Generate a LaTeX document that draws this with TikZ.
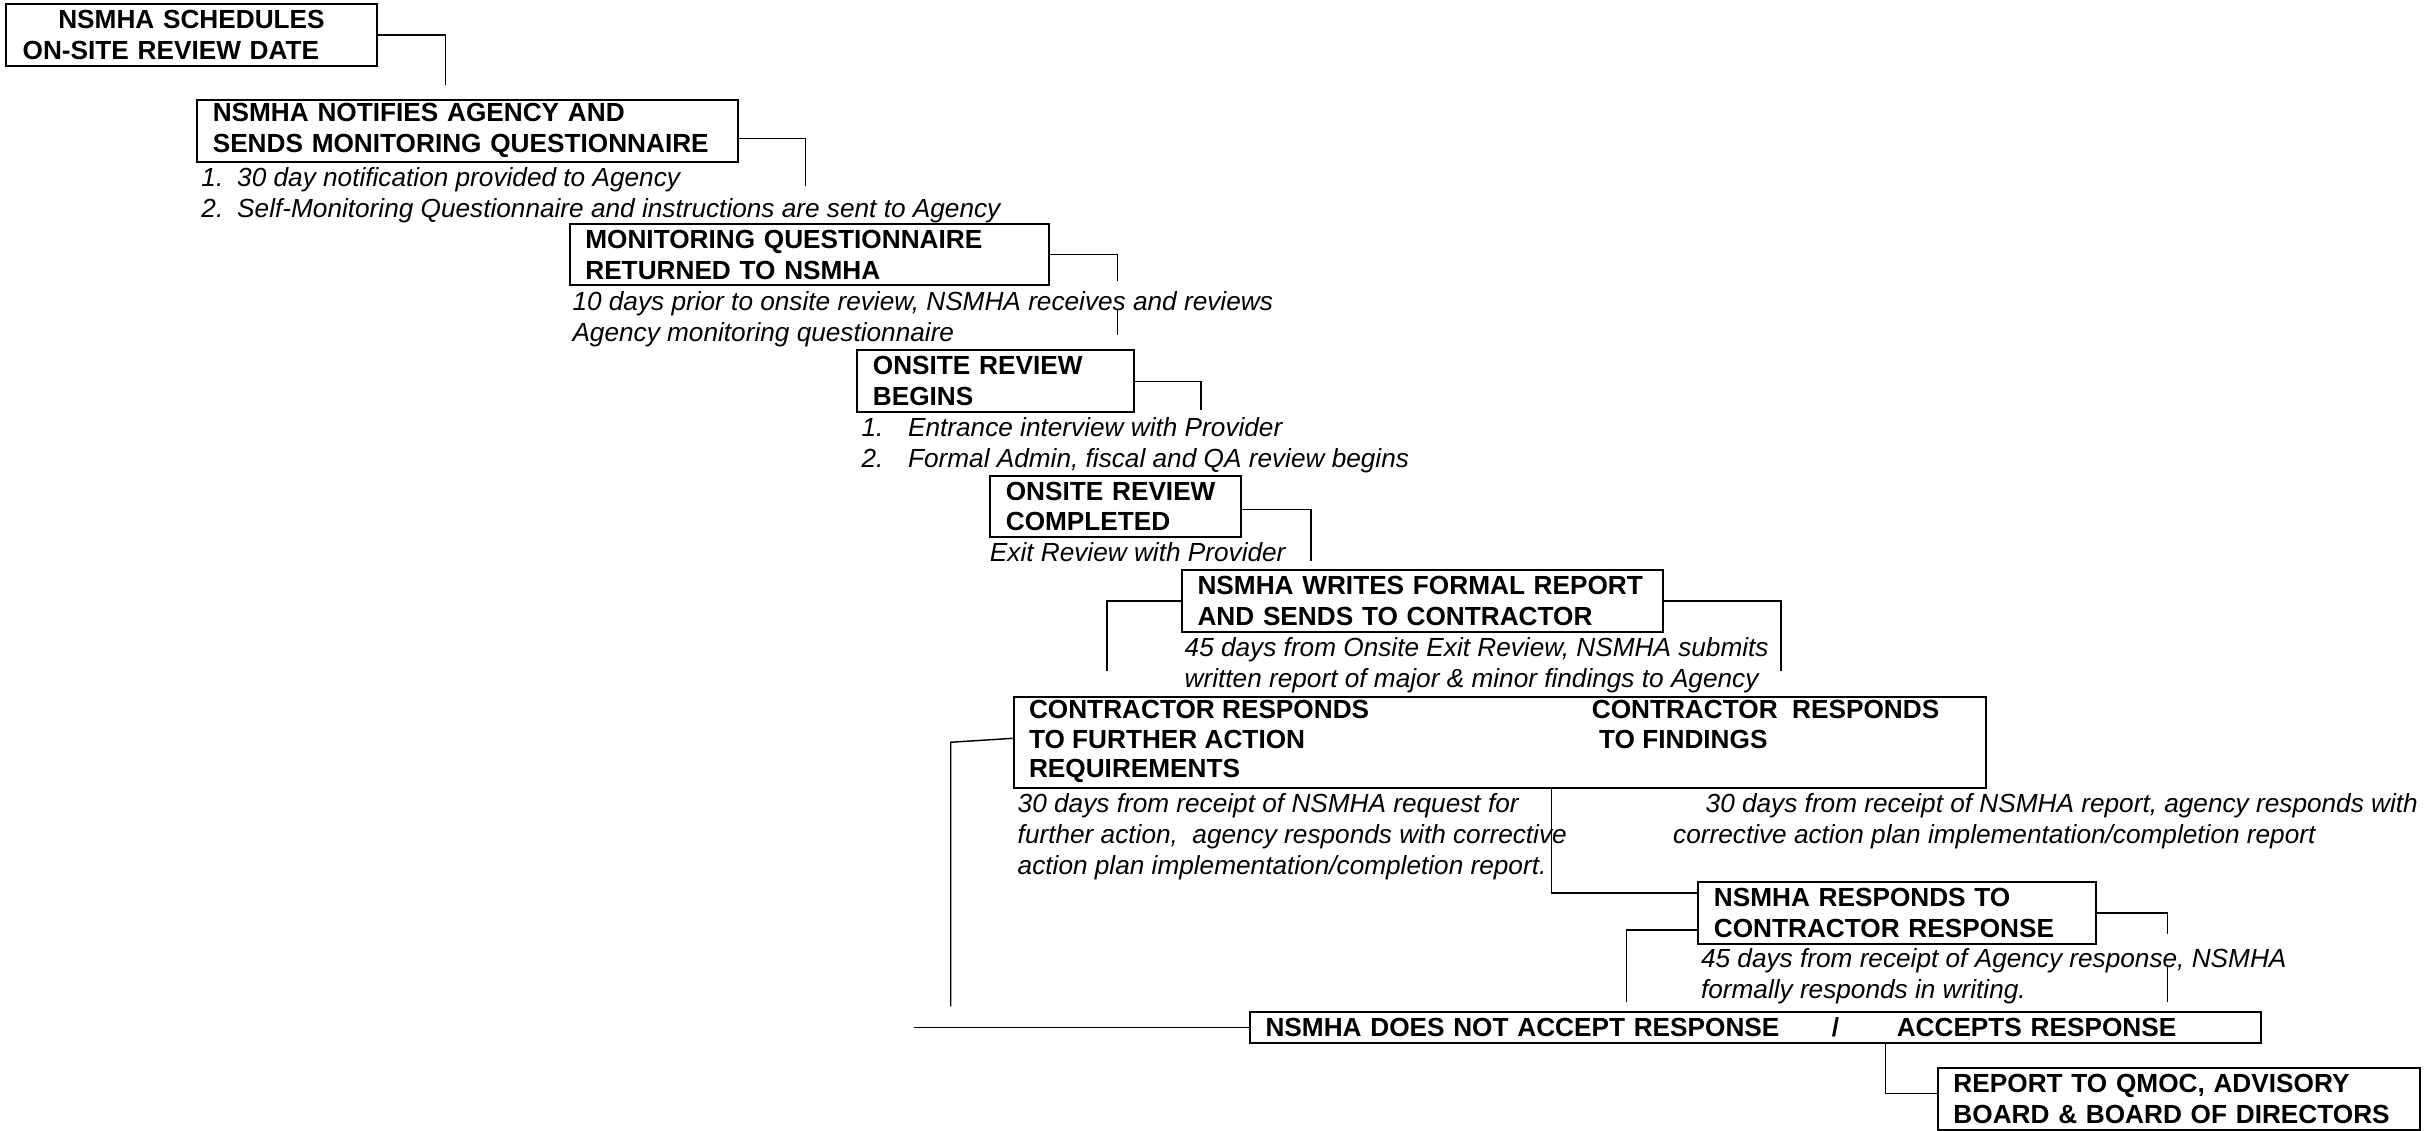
\documentclass[tikz,border=0pt]{standalone}
\usepackage{fontspec}
\setmainfont{Liberation Sans}
\begin{document}
\begin{tikzpicture}[x=0.59pt,y=-0.59pt,
    stage/.style={draw,line width=0.75pt,anchor=north west,align=left,inner xsep=5.9pt,inner ysep=0pt,minimum height=23.6pt,font=\bfseries\fontsize{10}{11.8}\selectfont},
    note/.style={anchor=north west,align=left,inner sep=0pt,font=\itshape\fontsize{10}{11.8}\selectfont},
    link/.style={line width=0.55pt}]
\useasboundingbox (0,0) rectangle (1568,731);

\node[stage,text width=128.6pt,inner xsep=6.5pt] (sched) at (3,2) {\hspace*{13.6pt}NSMHA SCHEDULES\\ON-SITE REVIEW DATE};
\node[stage,text width=194.7pt] (notify) at (127,64) {NSMHA NOTIFIES AGENCY AND\\SENDS MONITORING QUESTIONNAIRE};
\node[stage,text width=171.1pt] (returned) at (368,144) {MONITORING QUESTIONNAIRE\\RETURNED TO NSMHA};
\node[stage,text width=93.8pt] (begins) at (554,226) {ONSITE REVIEW\\BEGINS};
\node[stage,text width=83.8pt] (completed) at (640,307) {ONSITE REVIEW\\COMPLETED};
\node[stage,text width=171.7pt] (report) at (764,368) {NSMHA WRITES FORMAL REPORT\\AND SENDS TO CONTRACTOR};
\node[stage,minimum width=371.1pt,minimum height=34.8pt,font=\bfseries\fontsize{10}{11.2}\selectfont] (respond) at (655,450)
    {\begin{tabular}{@{}p{214.8pt}@{}p{144.5pt}@{}}
     CONTRACTOR RESPONDS & CONTRACTOR\ \ RESPONDS\\
     TO FURTHER ACTION & \ TO FINDINGS\\
     REQUIREMENTS &
     \end{tabular}};
\node[stage,text width=139.8pt] (nsmharesp) at (1098,570) {NSMHA RESPONDS TO\\CONTRACTOR RESPONSE};
\node[stage,text width=374.1pt,minimum height=11.8pt] (decision) at (808,654) {NSMHA DOES NOT ACCEPT RESPONSE\hspace{20pt}/\hspace{22pt}ACCEPTS RESPONSE};
\node[stage,text width=172.3pt] (qmoc) at (1253,690) {REPORT TO QMOC, ADVISORY\\BOARD \& BOARD OF DIRECTORS};

\coordinate (c1) at (288,55);
\coordinate (c2) at (521,120);
\coordinate (c3a) at (723,182);
\coordinate (c3b) at (723,200);
\coordinate (c3) at (723,217);
\coordinate (c4) at (777,265);
\coordinate (c5) at (848,363);
\coordinate (c6) at (1152,434);
\coordinate (c7) at (716,434);
\coordinate (c8) at (615,651);
\coordinate (c9a) at (1402,604);
\coordinate (c9b) at (1402,624);
\coordinate (c9) at (1402,648);
\coordinate (c10) at (1052,648);
\coordinate (c11) at (591,664);

\draw[link] (sched.east) -| (c1);
\draw[link] ([yshift=-2.95pt]notify.east) -| (c2);
\draw[link] (returned.east) -| (c3a);
\draw[link] (c3b) -- (c3);
\draw[link] (begins.east) -| (c4);
\draw[link] ([yshift=-1.2pt]completed.east) -| (c5);
\draw[link] (report.east) -| (c6);
\draw[link] (report.west) -| (c7);
\draw[link] ([yshift=1.5pt]respond.west) -- (c8 |- respond.west) -- (c8);
\draw[link] ([xshift=19.8pt]respond.south) |- ([yshift=7.7pt]nsmharesp.west);
\draw[link] (nsmharesp.east) -| (c9a);
\draw[link] (c9b) -- (c9);
\draw[link] ([yshift=-6.5pt]nsmharesp.west) -| (c10);
\draw[link] (decision.west) -- (decision.west -| c11);
\draw[link] ([xshift=49.6pt]decision.south) |- ([yshift=2pt]qmoc.west);

\node[note] (notifynote) at (130,108) {1.\hspace{5.3pt}30 day notification provided to Agency\\2.\hspace{5.3pt}Self-Monitoring Questionnaire and instructions are sent to Agency};
\node[note] (retnote) at (370,188) {10 days prior to onsite review, NSMHA receives and reviews\\Agency monitoring questionnaire};
\node[note] (begnote) at (557,270) {1.\hspace{9.4pt}Entrance interview with Provider\\2.\hspace{9.4pt}Formal Admin, fiscal and QA review begins};
\node[note,anchor=base west] (compnote) at (640,363) {Exit Review with Provider};
\node[note] (repnote) at (766,412) {45 days from Onsite Exit Review, NSMHA submits\\written report of major \& minor findings to Agency};
\node[note] (furthernote) at (658,513) {30 days from receipt of NSMHA request for\\further action,\ \ agency responds with corrective\\action plan implementation/completion report.};
\node[note] (findnote) at (1082,513) {\hspace*{12.4pt}30 days from receipt of NSMHA report, agency responds with\\corrective action plan implementation/completion report};
\node[note] (respnote) at (1100,613.5) {45 days from receipt of Agency response, NSMHA\\formally responds in writing.};
\end{tikzpicture}
\end{document}
